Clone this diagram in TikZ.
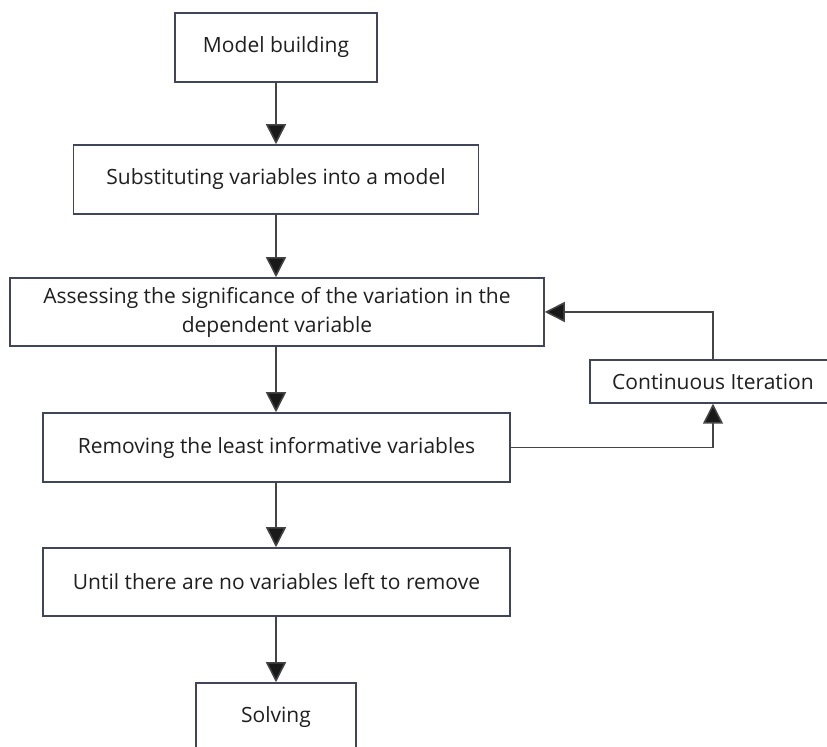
\documentclass[tikz,border=0pt]{standalone}
\usepackage{fontspec}
\setmainfont{Open Sans}
\usetikzlibrary{arrows.meta}
\definecolor{boxline}{HTML}{41455C}
\definecolor{arrline}{HTML}{454545}
\tikzset{
  box/.style={draw=boxline,line width=.75pt,fill=white,inner sep=2pt,align=center,text=black!88,font=\fontsize{10.5}{14.5}\selectfont},
  arr/.style={draw=arrline,line width=.75pt,-{Triangle[length=10pt,width=10pt,fill=black!90]}}
}
\begin{document}
\begin{tikzpicture}[x=.5pt,y=-.5pt]
    	\useasboundingbox (0,0) rectangle (827,747);
    	\clip (0,0) rectangle (827,747);
    	% main column
    	\node[box,minimum width=101pt,minimum height=34.5pt] (model) at (276,47.5) {Model building};
    	\node[box,minimum width=202.5pt,minimum height=34.5pt] (subst) at (276,179.5) {Substituting variables into a model};
    	\node[box,minimum width=267pt,minimum height=34pt] (assess) at (277,312) {Assessing the significance of the variation in the\\dependent variable};
    	\node[box,minimum width=233.5pt,minimum height=34.5pt] (remove) at (276.5,447.5) {Removing the least informative variables};
    	\node[box,minimum width=233.5pt,minimum height=34pt] (until) at (276.5,582) {Until there are no variables left to remove};
    	\node[box,minimum width=80pt,minimum height=34.5pt] (solve) at (276,717.5) {Solving};
    	% loop
    	\node[box,minimum width=123pt,minimum height=21.5pt] (iter) at (713,381.5) {Continuous Iteration};
    	\draw[arr] (model.south) -- (model.south |- subst.north);
    	\draw[arr] (subst.south) -- (subst.south |- assess.north);
    	\draw[arr] (assess.south -| subst.south) -- (subst.south |- remove.north);
    	\draw[arr] (remove.south -| subst.south) -- (subst.south |- until.north);
    	\draw[arr] (until.south -| subst.south) -- (subst.south |- solve.north);
    	\draw[arr] (remove.east) -| (iter.south);
    	\draw[arr] (iter.north) |- (assess.east);
\end{tikzpicture}
\end{document}
